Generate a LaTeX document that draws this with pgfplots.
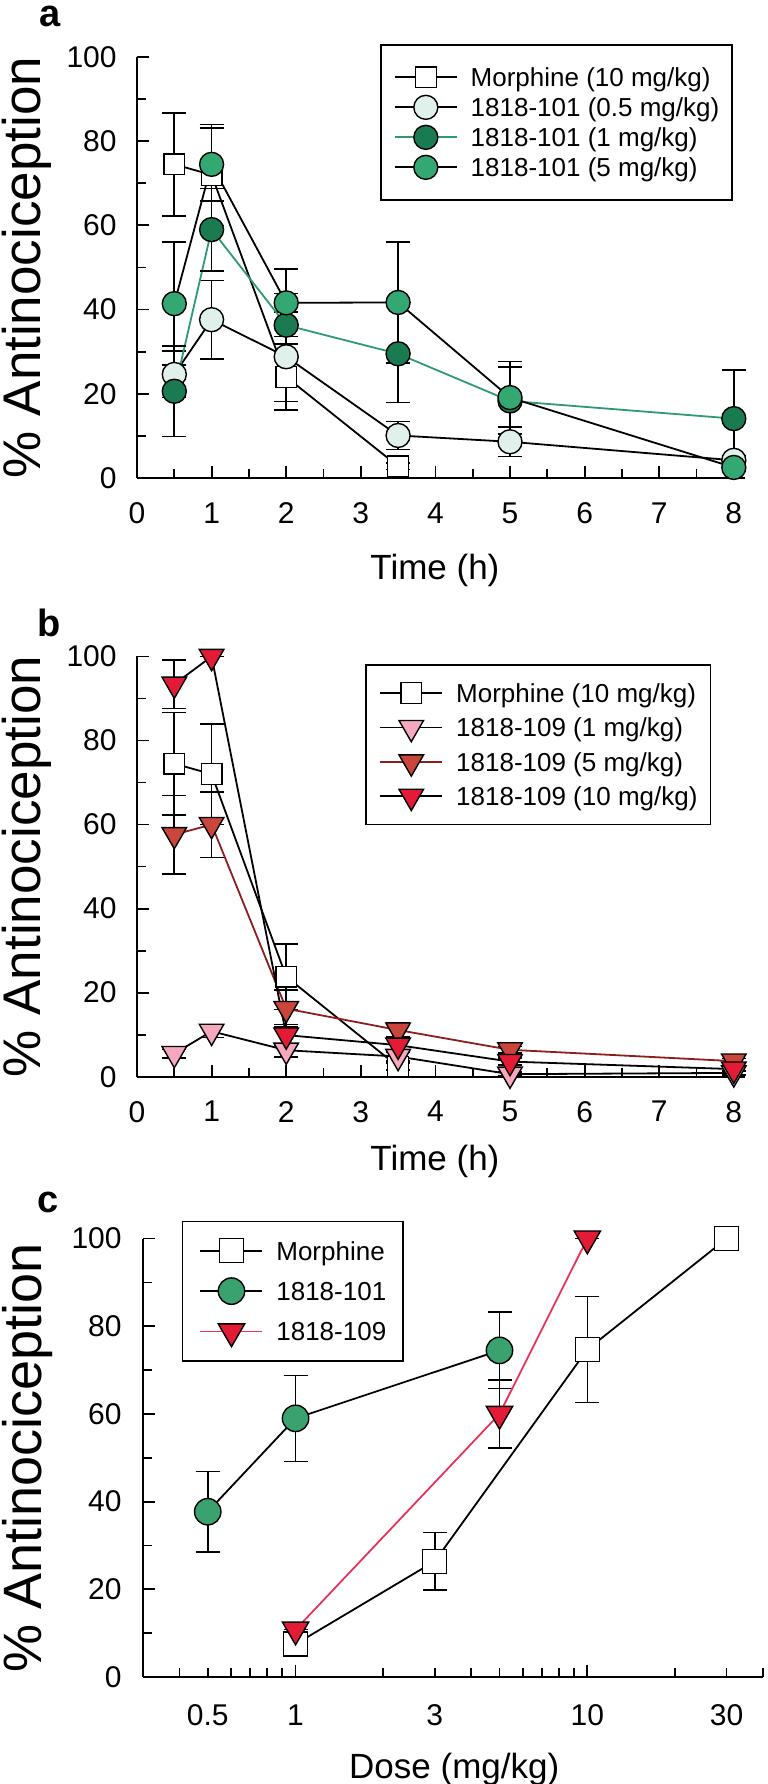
\documentclass[border=0pt]{standalone}
\usepackage{fontspec}
\setmainfont{Liberation Sans}
\usepackage{pgfplots}
\pgfplotsset{compat=1.18}

\definecolor{mint}{HTML}{E0F1EC}
\definecolor{dkgreen}{HTML}{1B7B50}
\definecolor{lngreen}{HTML}{2E9A6E}
\definecolor{mdgreen}{HTML}{34A873}
\definecolor{cgreen}{HTML}{3AA26F}
\definecolor{pinktri}{HTML}{F6A8BE}
\definecolor{brownred}{HTML}{C8463C}
\definecolor{dkred}{HTML}{8E1D1D}
\definecolor{redtri}{HTML}{E31B36}
\definecolor{redline}{HTML}{E8345C}

\pgfplotsset{
  panel/.style={
    scale only axis,
    axis lines*=left,
    axis line style={line width=0.9pt, -},
    tick style={line width=0.9pt, black},
    tick align=inside,
    major tick length=6pt,
    minor tick length=4.5pt,
    ymin=0, ymax=100,
    ytick={0,20,...,100},
    minor ytick={10,30,...,90},
    clip=false,
    /pgf/number format/assume math mode=true,
    ticklabel style={font=\fontsize{15}{15}\selectfont},
    yticklabel style={inner sep=0pt, xshift=-10pt},
    xticklabel style={inner sep=0pt, yshift=-12pt},
    ylabel={\% Antinociception},
    ylabel style={inner sep=0pt, font=\fontsize{26.5}{26.5}\selectfont,
      at={(axis description cs:-0.222,0.5)}, anchor=north},
    xlabel style={inner sep=0pt, font=\fontsize{17.5}{17.5}\selectfont,
      at={(axis description cs:0.49,0)}, anchor=north, yshift=-38pt},
    legend cell align=left,
    legend image code/.code={\draw[mark repeat=2,mark phase=2]
      plot coordinates {(0pt,0pt) (15.5pt,0pt) (31pt,0pt)};},
    error bars/error bar style={black, line width=0.8pt},
    error bars/error mark options={rotate=90, black, mark size=6pt, line width=0.8pt},
  },
  leg/.style={anchor=north west, draw=black, line width=0.9pt,
    font=\fontsize{13}{13}\selectfont, inner xsep=6.5pt, row sep=0pt,
    /tikz/every odd column/.append style={column sep=6.5pt}},
}

\begin{document}
\begin{tikzpicture}
\path[use as bounding box] (0,0) rectangle (383.5pt,892pt);

% ---------------- panel a ----------------
\begin{axis}[panel, at={(68.5pt,653pt)}, anchor=south west,
  width=304pt, height=210.5pt,
  xmin=0, xmax=8.15, xtick={0,...,8}, minor xtick={0.5,1.5,...,7.5},
  xlabel={Time (h)},
  legend style={leg, at={(rel axis cs:0.3997,1.031)}, inner ysep=8.75pt,
    nodes={inner sep=0pt, text height=12.2pt, text depth=2.8pt}}]
\addplot[black, line width=0.9pt, mark=square*, mark size=5.2pt,
  mark options={solid, fill=white, draw=black, line width=0.7pt},
  error bars/.cd, y dir=both, y explicit] coordinates {
  (0.5,74.5) +- (0,12.2)
  (1,72) +- (0,12)
  (2,24) +- (0,7.8)
  (3.5,2.8) +- (0,0.8)
};
\addplot[black, line width=0.9pt, mark=*, mark size=6pt,
  mark options={solid, fill=mint, draw=black, line width=0.7pt},
  error bars/.cd, y dir=both, y explicit] coordinates {
  (0.5,24.6) +- (0,5.5)
  (1,37.6) +- (0,9.3)
  (2,28.8) +- (0,10.6)
  (3.5,10.1) +- (0,3.3)
  (5,8.6) +- (0,3.5)
  (8,4.2) +- (0,1)
};
\addplot[lngreen, line width=0.9pt, mark=*, mark size=6pt,
  mark options={solid, fill=dkgreen, draw=black, line width=0.7pt},
  error bars/.cd, y dir=both, y explicit] coordinates {
  (0.5,20.6) +- (0,10.7)
  (1,59) +- (0,9.8)
  (2,36.3) +- (0,7.5)
  (3.5,29.5) +- (0,11.6)
  (5,18.3) +- (0,8)
  (8,14.1) +- (0,11.5)
};
\addplot[black, line width=0.9pt, mark=*, mark size=6pt,
  mark options={solid, fill=mdgreen, draw=black, line width=0.7pt},
  error bars/.cd, y dir=both, y explicit] coordinates {
  (0.5,41.4) +- (0,14.6)
  (1,74.5) +- (0,8.7)
  (2,41.6) +- (0,8)
  (3.5,41.7) +- (0,14.4)
  (5,19.1) +- (0,8.6)
  (8,2.5) +- (0,1)
};
\legend{Morphine (10 mg/kg),1818-101 (0.5 mg/kg),1818-101 (1 mg/kg),1818-101 (5 mg/kg)}
\end{axis}

% ---------------- panel b ----------------
\begin{axis}[panel, at={(68.5pt,353.65pt)}, anchor=south west,
  width=304pt, height=210.1pt,
  xmin=0, xmax=8.15, xtick={0,...,8}, minor xtick={0.5,1.5,...,7.5},
  xlabel={Time (h)},
  xlabel style={yshift=4pt},
  legend style={leg, at={(rel axis cs:0.3758,0.982)}, inner ysep=5.5pt,
    nodes={inner sep=0pt, text height=13.3pt, text depth=3.9pt}}]
\addplot[black, line width=0.9pt, mark=square*, mark size=5.2pt,
  mark options={solid, fill=white, draw=black, line width=0.7pt},
  error bars/.cd, y dir=both, y explicit] coordinates {
  (0.5,74.5) +- (0,12.2)
  (1,72) +- (0,12)
  (2,23.8) +- (0,7.8)
  (3.5,2.4) +- (0,0.8)
};
\addplot[black, line width=0.9pt, mark=triangle*, mark size=7.1pt,
  mark options={solid, rotate=180, fill=pinktri, draw=black, line width=0.7pt},
  error bars/.cd, y dir=both, y explicit] coordinates {
  (0.5,5.5) +- (0,1)
  (1,10.8) +- (0,1.5)
  (2,6.3) +- (0,1.6)
  (3.5,4.8) +- (0,1)
  (5,0.6) +- (0,0.5)
  (8,0.9) +- (0,0.5)
};
\addplot[dkred, line width=0.9pt, mark=triangle*, mark size=7.1pt,
  mark options={solid, rotate=180, fill=brownred, draw=black, line width=0.7pt},
  error bars/.cd, y dir=both, y explicit] coordinates {
  (0.5,57.6) +- (0,9.3)
  (1,60) +- (0,7.8)
  (2,16.2) +- (0,4.4)
  (3.5,11.1) +- (0,1.7)
  (5,6.4) +- (0,0.8)
  (8,3.7) +- (0,0.6)
};
\addplot[black, line width=0.9pt, mark=triangle*, mark size=7.1pt,
  mark options={solid, rotate=180, fill=redtri, draw=black, line width=0.7pt},
  error bars/.cd, y dir=both, y explicit] coordinates {
  (0.5,93.4) +- (0,5.8)
  (1,100) +- (0,0)
  (2,9.9) +- (0,2.5)
  (3.5,7.5) +- (0,1.5)
  (5,3.6) +- (0,0.8)
  (8,1.8) +- (0,0.5)
};
\legend{Morphine (10 mg/kg),1818-109 (1 mg/kg),1818-109 (5 mg/kg),1818-109 (10 mg/kg)}
\end{axis}

% ---------------- panel c ----------------
\begin{axis}[panel, at={(71.5pt,53.5pt)}, anchor=south west,
  width=310pt, height=219.2pt,
  xmode=log, xmin=0.3, xmax=40,
  xtick={1,10}, xticklabels={1,10},
  extra x ticks={0.5,3,30}, extra x tick labels={0.5,3,30},
  extra x tick style={major tick length=4.5pt},
  minor xtick={0.4,0.6,0.7,0.8,0.9,2,4,5,6,7,8,9,20,40},
  xticklabel style={yshift=-1.5pt},
  yticklabel style={xshift=-0.5pt},
  xlabel={Dose (mg/kg)},
  ylabel style={font=\fontsize{27}{27}\selectfont, at={(axis description cs:-0.227,0.5)}},
  xlabel style={at={(axis description cs:0.502,0)}},
  legend style={leg, at={(rel axis cs:0.0624,1.041)}, inner xsep=8.5pt, inner ysep=4.5pt,
    nodes={inner sep=0pt, text height=14.8pt, text depth=5.4pt}}]
\addplot[black, line width=0.9pt, mark=square*, mark size=6pt,
  mark options={solid, fill=white, draw=black, line width=0.7pt},
  error bars/.cd, y dir=both, y explicit] coordinates {
  (1,7.5) +- (0,0)
  (3,26.4) +- (0,6.6)
  (10,74.7) +- (0,12.1)
  (30,100) +- (0,0)
};
\addplot[black, line width=0.9pt, mark=*, mark size=6.6pt,
  mark options={solid, fill=cgreen, draw=black, line width=0.7pt},
  error bars/.cd, y dir=both, y explicit] coordinates {
  (0.5,37.7) +- (0,9.2)
  (1,59) +- (0,9.8)
  (5,74.5) +- (0,8.7)
};
\addplot[redline, line width=0.9pt, mark=triangle*, mark size=7.6pt,
  mark options={solid, rotate=180, fill=redtri, draw=black, line width=0.7pt},
  error bars/.cd, y dir=both, y explicit] coordinates {
  (1,10.8) +- (0,0)
  (5,60) +- (0,7.8)
  (10,100) +- (0,0)
};
\legend{Morphine,1818-101,1818-109}
\end{axis}

\node[anchor=base west, inner sep=0pt, font=\fontsize{19}{19}\selectfont\bfseries] at (19.5pt,878.5pt) {a};
\node[anchor=base west, inner sep=0pt, font=\fontsize{19}{19}\selectfont\bfseries] at (18.5pt,573.5pt) {b};
\node[anchor=base west, inner sep=0pt, font=\fontsize{19}{19}\selectfont\bfseries] at (18.5pt,285.5pt) {c};
\end{tikzpicture}
\end{document}
